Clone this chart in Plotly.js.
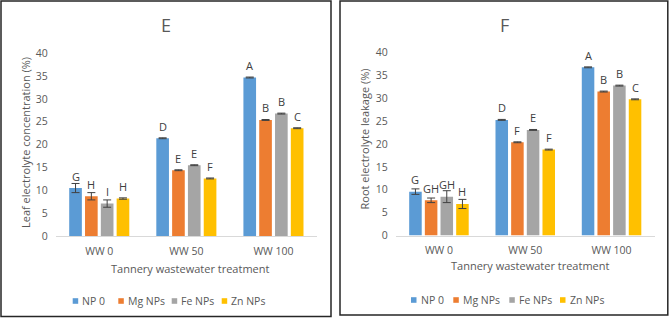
<!DOCTYPE html>
<html>
<head>
<meta charset="utf-8">
<script src="https://cdn.plot.ly/plotly-3.0.1.min.js"></script>
<style>html,body{margin:0;padding:0;background:#fff;}#chart{width:669px;height:318px;}</style>
</head>
<body>
<div id="chart"></div>
<script>
// ---- Data ----
var categories = ["WW 0", "WW 50", "WW 100"];
var seriesNames = ["NP 0", "Mg NPs", "Fe NPs", "Zn NPs"];

// Panel E: Leaf electrolyte concentration (%)
var leafNP0 = [10.5, 21.4, 34.7];
var leafMg  = [8.7, 14.4, 25.4];
var leafFe  = [7.1, 15.5, 26.8];
var leafZn  = [8.2, 12.6, 23.6];
var leafErrNP0 = [1.0, 0.1, 0.1];
var leafErrMg  = [0.8, 0.1, 0.1];
var leafErrFe  = [0.8, 0.1, 0.1];
var leafErrZn  = [0.15, 0.1, 0.1];
var leafLetNP0 = ["G", "D", "A"];
var leafLetMg  = ["H", "E", "B"];
var leafLetFe  = ["I", "E", "B"];
var leafLetZn  = ["H", "F", "C"];

// Panel F: Root electrolyte leakage (%)
var rootNP0 = [9.6, 25.3, 36.8];
var rootMg  = [7.7, 20.4, 31.5];
var rootFe  = [8.5, 23.1, 32.8];
var rootZn  = [6.9, 18.8, 29.8];
var rootErrNP0 = [0.6, 0.1, 0.1];
var rootErrMg  = [0.5, 0.1, 0.1];
var rootErrFe  = [1.3, 0.1, 0.1];
var rootErrZn  = [1.0, 0.1, 0.1];
var rootLetNP0 = ["G", "D", "A"];
var rootLetMg  = ["GH", "F", "B"];
var rootLetFe  = ["GH", "E", "B"];
var rootLetZn  = ["H", "F", "C"];

var yTicks = [0, 5, 10, 15, 20, 25, 30, 35, 40];

// ---- Styling ----
var colors = ["#5B9BD5", "#ED7D31", "#A5A5A5", "#FFC000"];
var W = 669, H = 318;
var FONT = "'Open Sans', sans-serif";
var TXT = "#595959";
var bargap = 0.274;
function px(x) { return x / W; }
function py(y) { return 1 - y / H; }

var leafVals = [leafNP0, leafMg, leafFe, leafZn];
var leafErrs = [leafErrNP0, leafErrMg, leafErrFe, leafErrZn];
var leafLets = [leafLetNP0, leafLetMg, leafLetFe, leafLetZn];
var rootVals = [rootNP0, rootMg, rootFe, rootZn];
var rootErrs = [rootErrNP0, rootErrMg, rootErrFe, rootErrZn];
var rootLets = [rootLetNP0, rootLetMg, rootLetFe, rootLetZn];

var traces = [];
var annotations = [];
var slot = (1 - bargap) / 4;

function addPanel(vals, errs, lets, xa, ya) {
  for (var s = 0; s < 4; s++) {
    traces.push({
      type: "bar",
      name: seriesNames[s],
      x: categories,
      y: vals[s],
      xaxis: xa, yaxis: ya,
      marker: { color: colors[s] },
      error_y: { type: "data", array: errs[s], visible: true, color: "#404040", thickness: 1, width: 4 },
      showlegend: false,
      hoverinfo: "x+y+name"
    });
    for (var i = 0; i < categories.length; i++) {
      annotations.push({
        xref: xa, yref: ya,
        x: i + (s - 1.5) * slot,
        y: vals[s][i],
        yshift: 12,
        text: lets[s][i],
        showarrow: false,
        xanchor: "center", yanchor: "middle",
        font: { family: FONT, size: 11, color: "#404040" }
      });
    }
  }
}
addPanel(leafVals, leafErrs, leafLets, "x", "y");
addPanel(rootVals, rootErrs, rootLets, "x2", "y2");

function textAnn(text, x, y, size, angle, color) {
  annotations.push({
    xref: "paper", yref: "paper", x: px(x), y: py(y),
    text: text, showarrow: false, xanchor: "center", yanchor: "middle",
    textangle: angle || 0,
    font: { family: FONT, size: size, color: color || TXT }
  });
}
// Panel titles
textAnn("E", 166, 25, 18);
textAnn("F", 504.5, 25, 18);
// Axis titles
textAnn("Tannery wastewater treatment", 190, 268.5, 11);
textAnn("Tannery wastewater treatment", 530, 265, 11);
textAnn("Leaf electrolyte concentration (%)", 25, 143, 11, -90);
textAnn("Root electrolyte leakage (%)", 363.5, 139, 11, -90);

var shapes = [];
// Panel frames
shapes.push({ type: "rect", xref: "paper", yref: "paper", x0: px(1), x1: px(331), y0: py(316.5), y1: py(1), line: { color: "#262626", width: 1.5 } });
shapes.push({ type: "rect", xref: "paper", yref: "paper", x0: px(340), x1: px(667.8), y0: py(315), y1: py(1), line: { color: "#262626", width: 1.5 } });

// Legends (swatch + label)
function addLegend(xs, yc) {
  for (var s = 0; s < 4; s++) {
    shapes.push({ type: "rect", xref: "paper", yref: "paper",
      x0: px(xs[s]), x1: px(xs[s] + 5.5), y0: py(yc + 2.8), y1: py(yc - 2.8),
      fillcolor: colors[s], line: { width: 0 } });
    annotations.push({ xref: "paper", yref: "paper", x: px(xs[s] + 7.5), y: py(yc),
      text: seriesNames[s], showarrow: false, xanchor: "left", yanchor: "middle",
      font: { family: FONT, size: 10.5, color: TXT } });
  }
}
addLegend([72.7, 118.3, 171.7, 221.7], 301);
addLegend([411, 453.3, 509.3, 560], 300);

var xCommon = {
  type: "category",
  showgrid: false, zeroline: false,
  showline: true, linecolor: "#D9D9D9", linewidth: 1,
  ticks: "", tickfont: { family: FONT, size: 10.5, color: TXT },
  ticklabelstandoff: 5,
  fixedrange: true
};
var yCommon = {
  range: [0, 40], tickvals: yTicks, ticktext: yTicks.map(String),
  showgrid: false, zeroline: false, showline: false, ticks: "",
  tickfont: { family: FONT, size: 10.5, color: TXT },
  ticklabelstandoff: 7,
  fixedrange: true
};

var layout = {
  width: W, height: H,
  margin: { l: 0, r: 0, t: 0, b: 0 },
  paper_bgcolor: "#ffffff", plot_bgcolor: "#ffffff",
  barmode: "group", bargap: bargap, bargroupgap: 0.2,
  showlegend: false,
  xaxis: Object.assign({}, xCommon, { domain: [px(55.7), px(317)], anchor: "y" }),
  yaxis: Object.assign({}, yCommon, { domain: [py(236), py(53.3)], anchor: "x" }),
  xaxis2: Object.assign({}, xCommon, { domain: [px(395.8), px(654.7)], anchor: "y2" }),
  yaxis2: Object.assign({}, yCommon, { domain: [py(235.5), py(52.7)], anchor: "x2" }),
  annotations: annotations,
  shapes: shapes
};

Plotly.newPlot("chart", traces, layout, { displayModeBar: false, staticPlot: true });
</script>
</body>
</html>
